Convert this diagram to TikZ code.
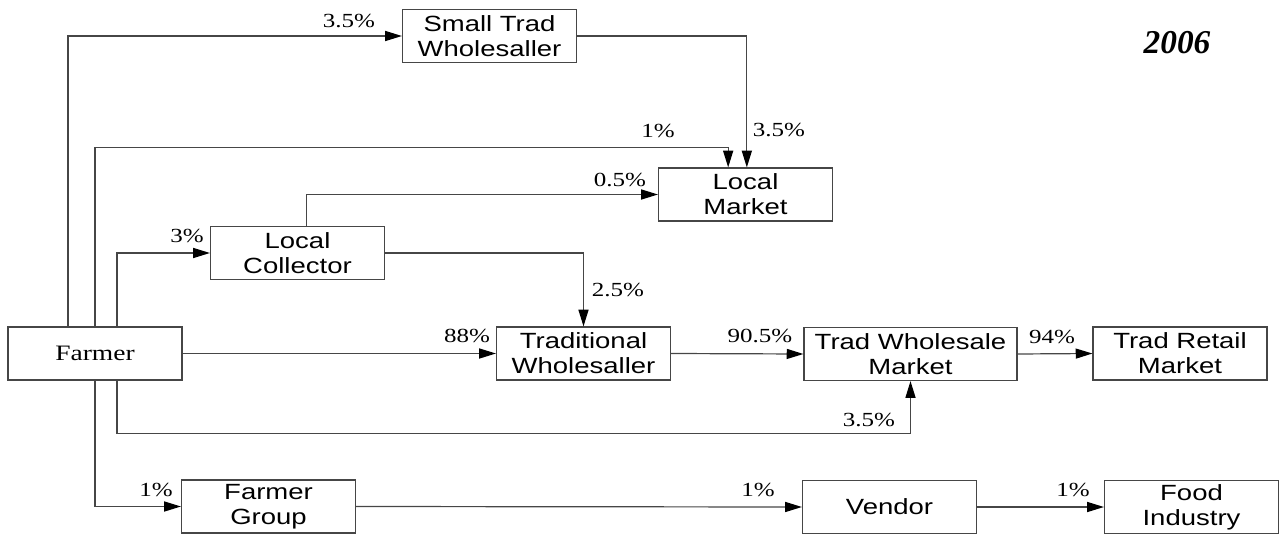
\documentclass[tikz,border=0pt]{standalone}
\usepackage{fontspec}
\setmainfont{Liberation Serif}[FakeStretch=1.25]
\newfontfamily\boxfont{Liberation Sans}[FakeStretch=1.25]
\newfontfamily\yearfont{Liberation Serif}
\usepackage{tikz}
\usetikzlibrary{arrows.meta, positioning}
\definecolor{linegray}{RGB}{70,70,70}

\begin{document}
\begin{tikzpicture}[x=0.75pt, y=-0.75pt,
  every node/.style={font=\fontsize{15}{18}\selectfont},
  stage/.style={draw=linegray, line width=0.9pt, minimum width=130.5pt, minimum height=39.75pt, inner sep=0pt, align=center, font=\boxfont\fontsize{16.5}{18.75}\selectfont},
  pct/.style={inner sep=0pt},
  flow/.style={draw=linegray, line width=0.9pt, -{Triangle[length=12.5pt, width=7.5pt, color=black]}}]
  \useasboundingbox (0,0) rectangle (1285,535);

  % stages
  \node[stage, font=\fontsize{16.5}{18}\selectfont] (farmer) at (95,353.5) {Farmer};
  \node[stage] (stw) at (489.5,36) {Small Trad\\Wholesaller};
  \node[stage] (lm) at (745.5,194.5) {Local\\Market};
  \node[stage] (lc) at (297.5,253) {Local\\Collector};
  \node[stage] (tw) at (583.5,353.5) {Traditional\\Wholesaller};
  \node[stage, minimum width=159.75pt] (twm) at (910.5,354) {Trad Wholesale\\Market};
  \node[stage] (trm) at (1180,353.5) {Trad Retail\\Market};
  \node[stage] (fg) at (268.5,506.5) {Farmer\\Group};
  \node[stage] (vend) at (889.5,507) {Vendor};
  \node[stage] (food) at (1191.5,507) {Food\\Industry};

  % flows
  \draw[flow] (farmer.north) ++(-27,0) |- (stw.west);
  \draw[flow] (farmer.north) -- ++(0,-179) -| ([xshift=-13pt]lm.north);
  \draw[flow] (stw.east) -| ([xshift=1pt]lm.north);
  \draw[flow] ([xshift=7pt]lc.north) |- (lm.west);
  \draw[flow] ([xshift=16.5pt]farmer.north) |- (lc.west);
  \draw[flow] (lc.east) -| (tw.north);
  \draw[flow] (farmer.east) -- (tw.west);
  \draw[flow] (tw.east) -- (twm.west);
  \draw[flow] (twm.east) -- (trm.west);
  \draw[flow] ([xshift=16.5pt]farmer.south) -- ++(0,53) -| (twm.south);
  \draw[flow] (farmer.south) |- (fg.west);
  \draw[flow] (fg.east) -- (vend.west);
  \draw[flow] (vend.east) -- (food.west);

  % shares
  \node[pct] (p1) at (349,21) {3.5\%};
  \node[pct] (p2) at (658,131) {1\%};
  \node[pct] (p3) at (779,130) {3.5\%};
  \node[pct] (p4) at (620,180) {0.5\%};
  \node[pct] (p5) at (187,236) {3\%};
  \node[pct] (p6) at (618,290) {2.5\%};
  \node[pct] (p7) at (467,336) {88\%};
  \node[pct] (p8) at (760,336) {90.5\%};
  \node[pct] (p9) at (1052,337) {94\%};
  \node[pct] (p10) at (869,420) {3.5\%};
  \node[pct] (p11) at (156,490) {1\%};
  \node[pct] (p12) at (758,490) {1\%};
  \node[pct] (p13) at (1073,490) {1\%};

  \node[pct, font=\yearfont\bfseries\itshape\fontsize{25}{28}\selectfont] (year) at (1177,43) {2006};
\end{tikzpicture}
\end{document}
